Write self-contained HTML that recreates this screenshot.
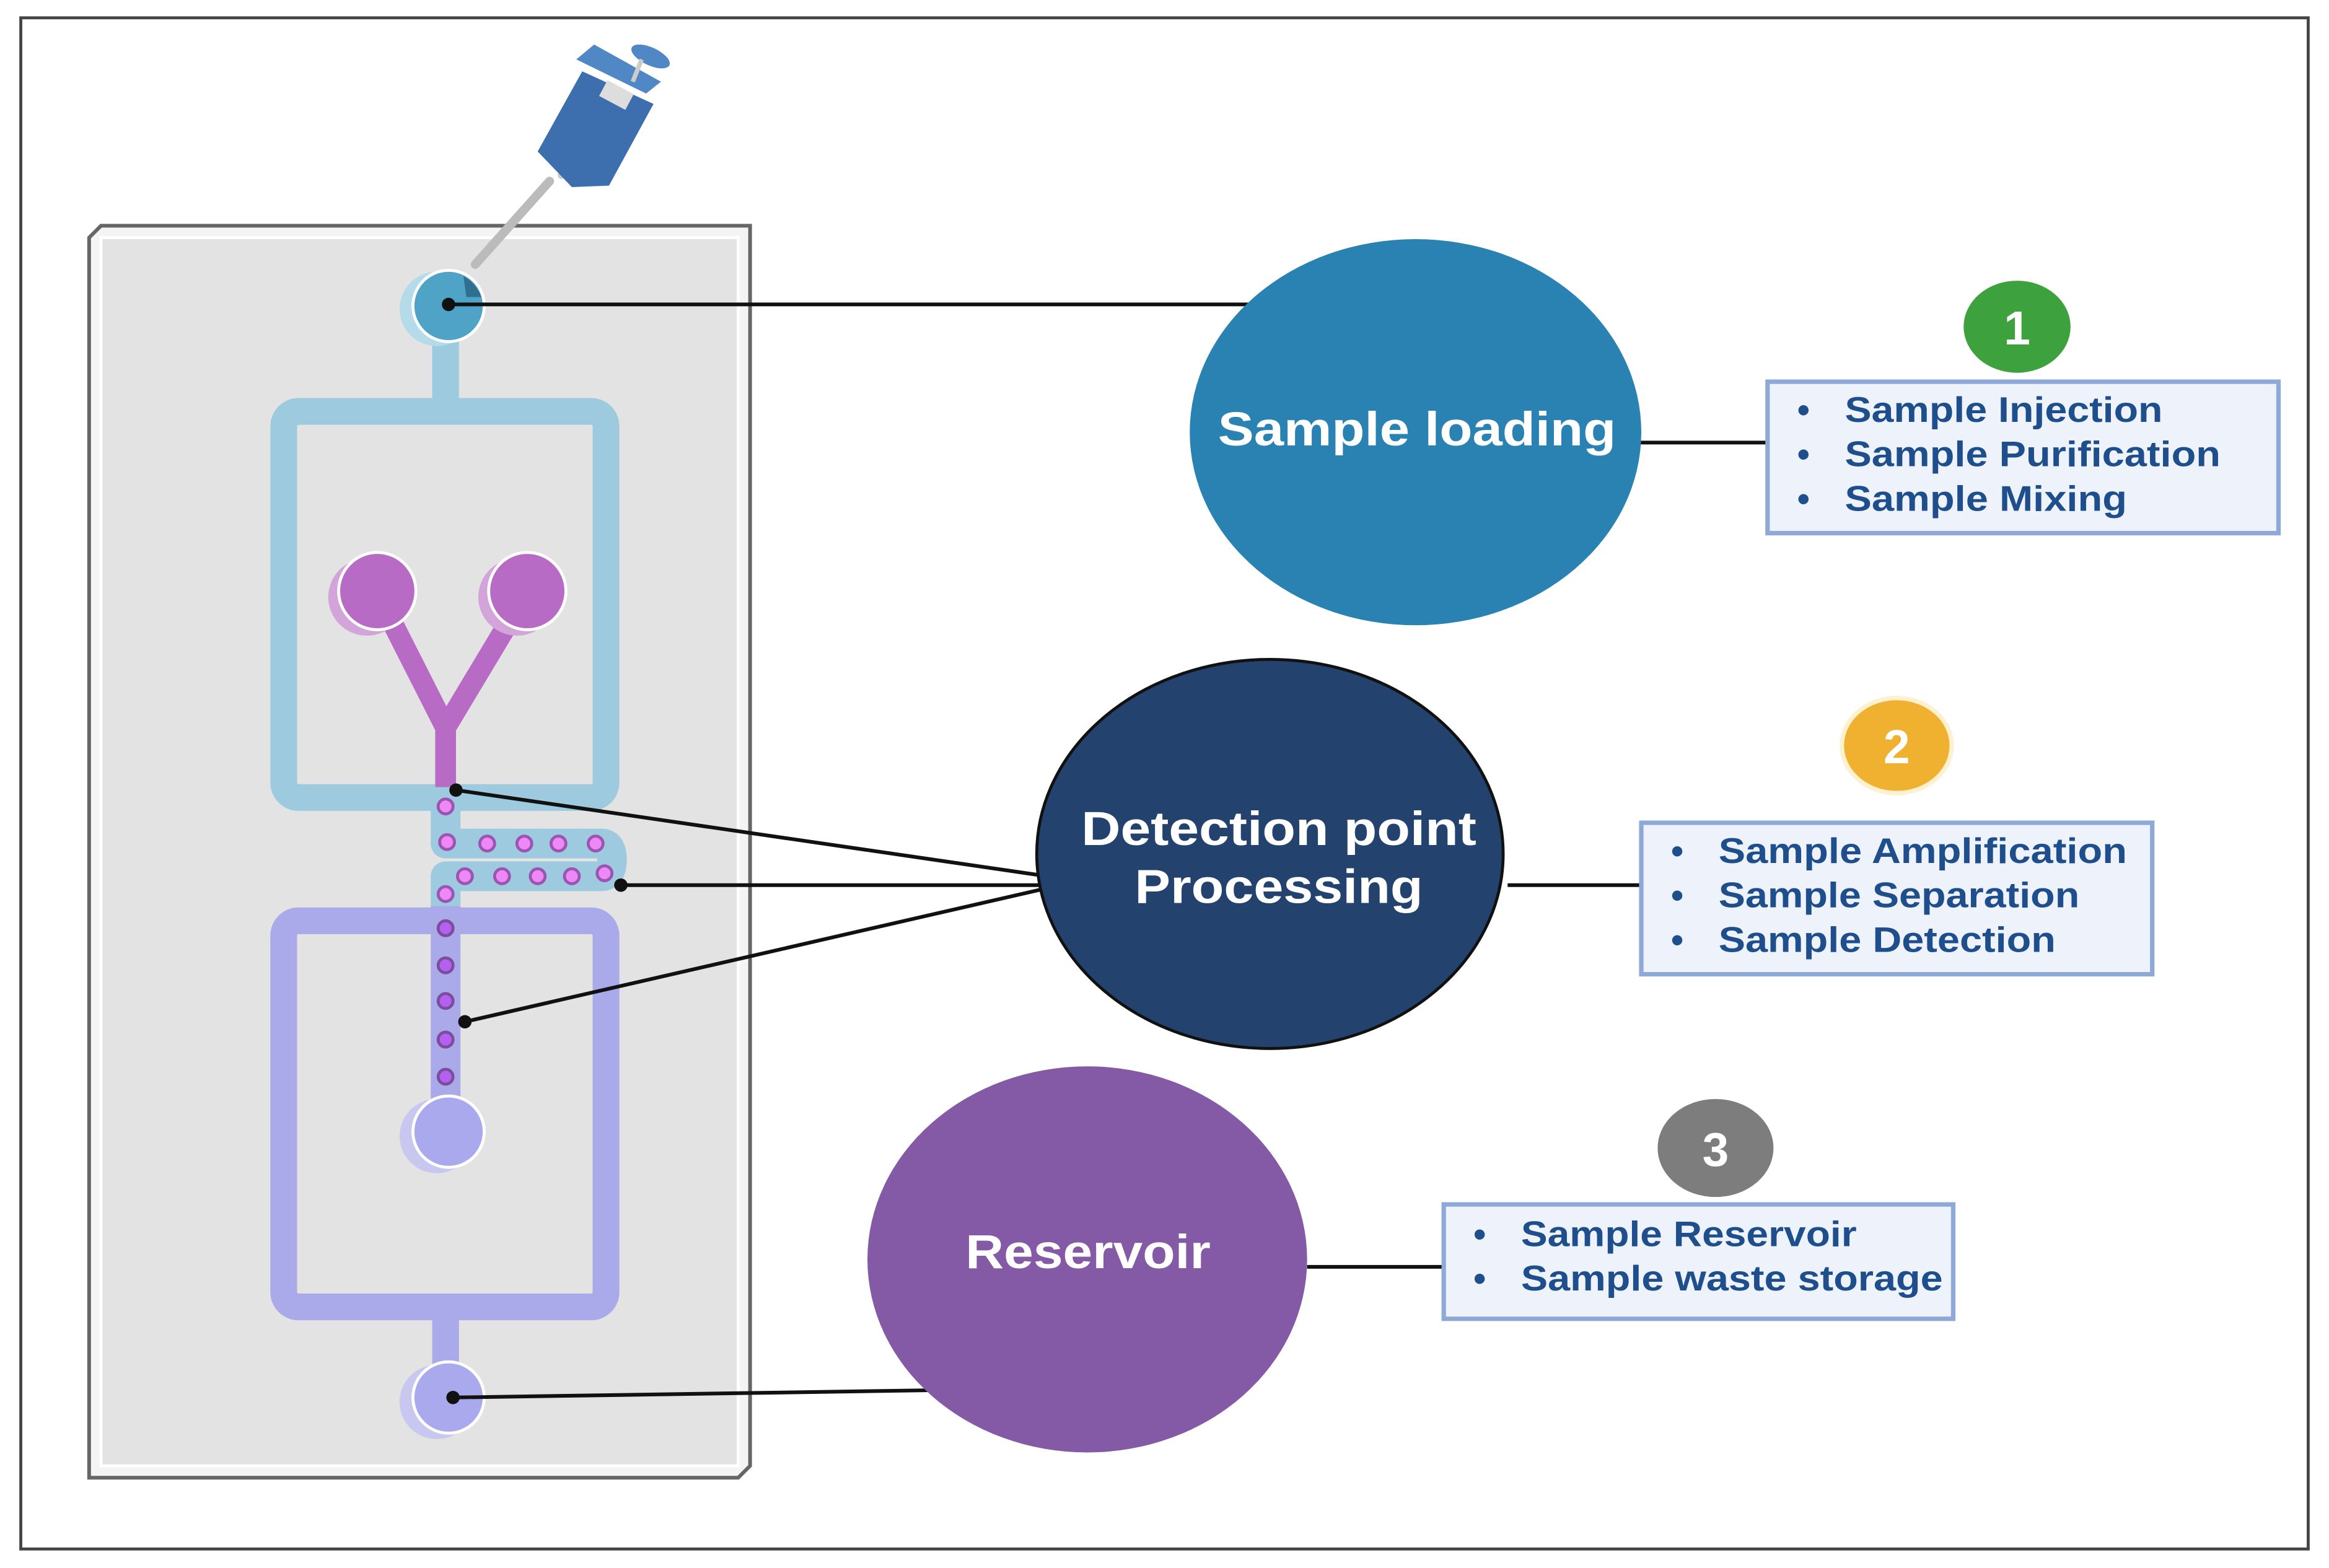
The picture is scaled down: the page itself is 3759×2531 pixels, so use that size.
<!DOCTYPE html>
<html><head><meta charset="utf-8"><style>
html,body{margin:0;padding:0;background:#fff;}
svg{display:block;}
text{font-family:"Liberation Sans","DejaVu Sans",sans-serif;font-weight:bold;}
</style></head><body>
<svg width="3759" height="2531" viewBox="0 0 1568 1055.8" preserveAspectRatio="none" xmlns="http://www.w3.org/2000/svg">
<rect x="0" y="0" width="1568" height="1056" fill="#fff"/>
<rect x="14" y="12" width="1540" height="1031" fill="#fff" stroke="#444" stroke-width="2"/>
<!-- chip -->
<polygon points="60,160 68,152 505,152 505,987 497,995 60,995" fill="#f4f4f4" stroke="#666" stroke-width="2.5"/>
<rect x="68" y="160" width="429" height="827" fill="#e3e3e3" stroke="#fff" stroke-width="2"/>
<!-- upper loop -->
<line x1="300" y1="225" x2="300" y2="280" stroke="#9ecadf" stroke-width="18"/>
<rect x="191" y="277" width="217" height="260" rx="10" fill="none" stroke="#9ecadf" stroke-width="18"/>
<!-- serpentine -->
<path d="M300,537 L300,568 L405,568 Q412,568 412,579 Q412,590 405,590 L300,590 L300,610" fill="none" stroke="#9ecadf" stroke-width="20" stroke-linejoin="round"/>
<!-- lower loop -->
<rect x="191" y="620" width="217" height="260" rx="10" fill="none" stroke="#aaa9e9" stroke-width="18"/>
<line x1="300" y1="610" x2="300" y2="745" stroke="#aaa9e9" stroke-width="20"/>
<line x1="300" y1="880" x2="300" y2="925" stroke="#aaa9e9" stroke-width="18"/>
<!-- Y -->
<line x1="262" y1="415" x2="300" y2="490" stroke="#b86bc4" stroke-width="14"/>
<line x1="345" y1="415" x2="300" y2="490" stroke="#b86bc4" stroke-width="14"/>
<line x1="300" y1="485" x2="300" y2="530" stroke="#b86bc4" stroke-width="14"/>
<circle cx="247" cy="402" r="26" fill="#d3a4da"/><circle cx="254" cy="398" r="26" fill="#b86bc4" stroke="#fff" stroke-width="2"/>
<circle cx="348" cy="402" r="26" fill="#d3a4da"/><circle cx="355" cy="398" r="26" fill="#b86bc4" stroke="#fff" stroke-width="2"/>
<!-- dots -->
<g fill="#ee88f5" stroke="#9a55b3" stroke-width="2">
<circle cx="300" cy="543" r="5"/><circle cx="301" cy="567" r="5"/><circle cx="328" cy="568" r="5"/><circle cx="353" cy="568" r="5"/><circle cx="376" cy="568" r="5"/><circle cx="401" cy="568" r="5"/>
<circle cx="313" cy="590" r="5"/><circle cx="338" cy="590" r="5"/><circle cx="362" cy="590" r="5"/><circle cx="385" cy="590" r="5"/><circle cx="407" cy="588" r="5"/><circle cx="300" cy="602" r="5"/>
</g>
<g fill="#b560f0" stroke="#7a4e9a" stroke-width="2">
<circle cx="300" cy="625" r="5"/><circle cx="300" cy="650" r="5"/><circle cx="300" cy="674" r="5"/><circle cx="300" cy="700" r="5"/><circle cx="300" cy="725" r="5"/>
</g>
<!-- circles -->
<circle cx="294" cy="208" r="25" fill="#b5dbeb"/><circle cx="302" cy="206" r="24" fill="#4fa3c7" stroke="#fff" stroke-width="2"/>
<path d="M312,186 A24,24 0 0 1 324,200 L314,200 Z" fill="#2f6f8f"/>
<circle cx="294" cy="765" r="25" fill="#c8c7ef"/><circle cx="302" cy="762" r="24" fill="#aaa9ee" stroke="#fff" stroke-width="2"/>
<circle cx="294" cy="944" r="25" fill="#c8c7ef"/><circle cx="302" cy="941" r="24" fill="#aaa9ee" stroke="#fff" stroke-width="2"/>
<!-- pipette -->
<g>
<line x1="320" y1="178" x2="370" y2="122" stroke="#bbb" stroke-width="6" stroke-linecap="round"/>
<line x1="378" y1="118" x2="398" y2="105" stroke="#ccc" stroke-width="5" stroke-linecap="round"/>
<polygon points="362,102 392,48 440,70 410,125 385,126" fill="#3d6fae"/>
<polygon points="388,40 400,30 445,55 435,63" fill="#4f88c4"/>
<rect x="405" y="58" width="20" height="12" fill="#ddd" transform="rotate(28 415 64)"/>
<ellipse cx="438" cy="38" rx="14" ry="6" fill="#4f88c4" transform="rotate(25 438 38)"/>
<line x1="432" y1="40" x2="426" y2="55" stroke="#ccc" stroke-width="3"/>
</g>
<!-- connectors -->
<g stroke="#111" stroke-width="2.5" fill="none">
<line x1="302" y1="205" x2="843" y2="205"/>
<line x1="1100" y1="298" x2="1190" y2="298"/>
<line x1="307" y1="532" x2="705" y2="590"/>
<line x1="418" y1="596" x2="715" y2="596"/>
<line x1="313" y1="688" x2="705" y2="598"/>
<line x1="1015" y1="596" x2="1105" y2="596"/>
<line x1="880" y1="853" x2="972" y2="853"/>
<line x1="305" y1="941" x2="633" y2="936"/>
</g>
<g fill="#111"><circle cx="302" cy="205" r="4.5"/><circle cx="307" cy="532" r="4.5"/><circle cx="418" cy="596" r="4.5"/><circle cx="313" cy="688" r="4.5"/><circle cx="305" cy="941" r="4.5"/></g>
<!-- ellipses -->
<ellipse cx="953" cy="291" rx="152" ry="130" fill="#2a82b3"/>
<text x="820" y="300" font-size="32" fill="#fff" textLength="268" lengthAdjust="spacingAndGlyphs">Sample loading</text>
<ellipse cx="855" cy="575" rx="157" ry="131" fill="#23436e" stroke="#111" stroke-width="2"/>
<text x="728" y="569" font-size="32" fill="#fff" textLength="266" lengthAdjust="spacingAndGlyphs">Detection point</text>
<text x="764" y="608" font-size="32" fill="#fff" textLength="194" lengthAdjust="spacingAndGlyphs">Processing</text>
<ellipse cx="732" cy="848" rx="148" ry="130" fill="#8459a6"/>
<text x="650" y="854" font-size="32" fill="#fff" textLength="165" lengthAdjust="spacingAndGlyphs">Reservoir</text>
<!-- boxes -->
<g fill="#eef3fb" stroke="#8ea9d8" stroke-width="3">
<rect x="1190" y="257" width="344" height="102"/>
<rect x="1105" y="554" width="344" height="102"/>
<rect x="972" y="811" width="343" height="77"/>
</g>
<g font-size="24" fill="#1f4e8c" lengthAdjust="spacingAndGlyphs">
<text x="1210" y="284">•</text><text x="1242" y="284" textLength="214" lengthAdjust="spacingAndGlyphs">Sample Injection</text>
<text x="1210" y="314">•</text><text x="1242" y="314" textLength="253" lengthAdjust="spacingAndGlyphs">Sample Purification</text>
<text x="1210" y="344">•</text><text x="1242" y="344" textLength="190" lengthAdjust="spacingAndGlyphs">Sample Mixing</text>
<text x="1125" y="581">•</text><text x="1157" y="581" textLength="275" lengthAdjust="spacingAndGlyphs">Sample Amplification</text>
<text x="1125" y="611">•</text><text x="1157" y="611" textLength="243" lengthAdjust="spacingAndGlyphs">Sample Separation</text>
<text x="1125" y="641">•</text><text x="1157" y="641" textLength="227" lengthAdjust="spacingAndGlyphs">Sample Detection</text>
<text x="992" y="839">•</text><text x="1024" y="839" textLength="226" lengthAdjust="spacingAndGlyphs">Sample Reservoir</text>
<text x="992" y="869">•</text><text x="1024" y="869" textLength="284" lengthAdjust="spacingAndGlyphs">Sample waste storage</text>
</g>
<!-- badges -->
<ellipse cx="1358" cy="220" rx="36" ry="31" fill="#3da23d"/>
<text x="1358" y="232" font-size="32" fill="#fff" text-anchor="middle">1</text>
<ellipse cx="1277" cy="502" rx="37" ry="32" fill="#f0b030" stroke="#fdf1d0" stroke-width="3"/>
<text x="1277" y="514" font-size="32" fill="#fff" text-anchor="middle">2</text>
<ellipse cx="1155" cy="773" rx="39" ry="33" fill="#7d7d7d"/>
<text x="1155" y="785" font-size="32" fill="#fff" text-anchor="middle">3</text>
</svg>
</body></html>
